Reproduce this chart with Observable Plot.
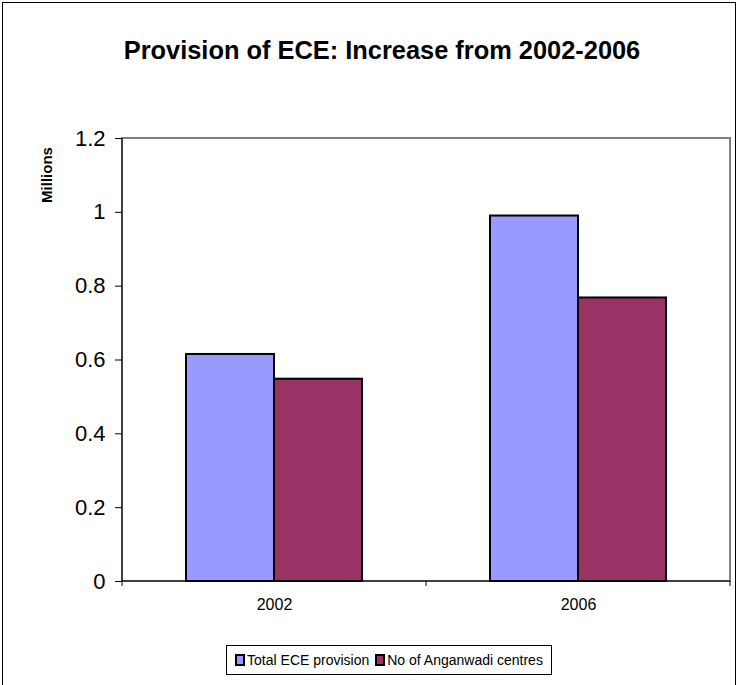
<!DOCTYPE html>
<html>
<head>
<meta charset="utf-8">
<script src="https://cdn.jsdelivr.net/npm/d3@7"></script>
<script src="https://cdn.jsdelivr.net/npm/@observablehq/plot@0.6"></script>
<style>
  html, body { margin: 0; padding: 0; background: #fff; }
  #wrap { position: relative; width: 740px; height: 685px; overflow: hidden; font-family: "Liberation Sans", Arial, sans-serif; }
  #border { position: absolute; left: 2px; top: 2px; width: 734px; height: 700px; border: 1px solid #000; box-sizing: border-box; }
  #title { position: absolute; left: 0; width: 764px; top: 36px; text-align: center; font-weight: bold; font-size: 25.4px; color: #000; white-space: nowrap; }
  #legend { position: absolute; left: 226px; top: 645px; width: 326px; height: 30px; border: 1px solid #000; box-sizing: border-box; display: flex; align-items: center; justify-content: center; font-size: 14px; background: #fff; white-space: nowrap; }
  .item { display: flex; align-items: center; margin: 0 3px; white-space: nowrap; }
  .sw { width: 6px; height: 8px; border: 2px solid #000; margin-right: 2px; flex: none; }
  svg { position: absolute; left: 0; top: 0; }
</style>
</head>
<body>
<div id="wrap">
  <div id="border"></div>
  <div id="title">Provision of ECE: Increase from 2002-2006</div>
</div>
<script>
const years = ["2002", "2006"];
const seriesNames = ["Total ECE provision", "No of Anganwadi centres"];
const totalECE = [0.615, 0.99];
const anganwadi = [0.548, 0.768];
const yTicks = [0, 0.2, 0.4, 0.6, 0.8, 1, 1.2];
const seriesColors = ["#9999FF", "#993366"];
const yLabel = "Millions";

const data = years.flatMap((yr, i) => [
  {year: yr, series: seriesNames[0], value: totalECE[i]},
  {year: yr, series: seriesNames[1], value: anganwadi[i]}
]);

const chart = Plot.plot({
  width: 740,
  height: 685,
  marginTop: 138,
  marginBottom: 104,
  marginLeft: 122,
  marginRight: 10,
  style: {fontFamily: "'Liberation Sans', Arial, sans-serif", background: "transparent", color: "#000"},
  fx: {domain: years, padding: 0},
  x: {domain: seriesNames, paddingInner: 0, paddingOuter: 0.727, axis: null},
  y: {domain: [0, 1.2]},
  color: {domain: seriesNames, range: seriesColors},
  marks: [
    Plot.barY(data, {fx: "year", x: "series", y: "value", fill: "series", stroke: "#000", strokeWidth: 2}),
    Plot.axisY({ticks: yTicks, tickFormat: d => String(d), tickSize: 7, tickPadding: 10, fontSize: 22, label: null}),
    Plot.axisFx({anchor: "bottom", tickSize: 0, tickPadding: 17, fontSize: 16, label: null})
  ]
});

const wrap = document.getElementById("wrap");
wrap.appendChild(chart);

// plot-area frame and axis lines, from the scales
const fxs = chart.scale("fx");
const ys = chart.scale("y");
const x0 = Math.min(...fxs.range), x1 = Math.max(...fxs.range);
const yBottom = Math.max(...ys.range), yTop = Math.min(...ys.range);
const svg = d3.select(chart);
const g = svg.insert("g", ":first-child");
g.append("rect").attr("x", x0).attr("y", yTop).attr("width", x1 - x0).attr("height", yBottom - yTop)
  .attr("fill", "#fff").attr("stroke", "#808080").attr("stroke-width", 2);
const g2 = svg.append("g").attr("stroke", "#000").attr("stroke-width", 1);
g2.append("line").attr("x1", x0).attr("x2", x0).attr("y1", yTop).attr("y2", yBottom);
g2.append("line").attr("x1", x0).attr("x2", x1).attr("y1", yBottom).attr("y2", yBottom);
const step = (x1 - x0) / years.length;
d3.range(years.length + 1).forEach(i => {
  const xx = x0 + i * step;
  g2.append("line").attr("x1", xx).attr("x2", xx).attr("y1", yBottom).attr("y2", yBottom + 5);
});
svg.append("text").attr("transform", `translate(52, ${yTop + 37}) rotate(-90)`)
  .attr("text-anchor", "middle").attr("font-weight", "bold").attr("font-size", 15)
  .attr("font-family", "'Liberation Sans', Arial, sans-serif").text(yLabel);

// legend
const legend = document.createElement("div");
legend.id = "legend";
seriesNames.forEach((s, i) => {
  const it = document.createElement("div");
  it.className = "item";
  const sw = document.createElement("span");
  sw.className = "sw";
  sw.style.background = seriesColors[i];
  const tx = document.createElement("span");
  tx.textContent = s;
  it.appendChild(sw); it.appendChild(tx);
  legend.appendChild(it);
});
wrap.appendChild(legend);
</script>
</body>
</html>
